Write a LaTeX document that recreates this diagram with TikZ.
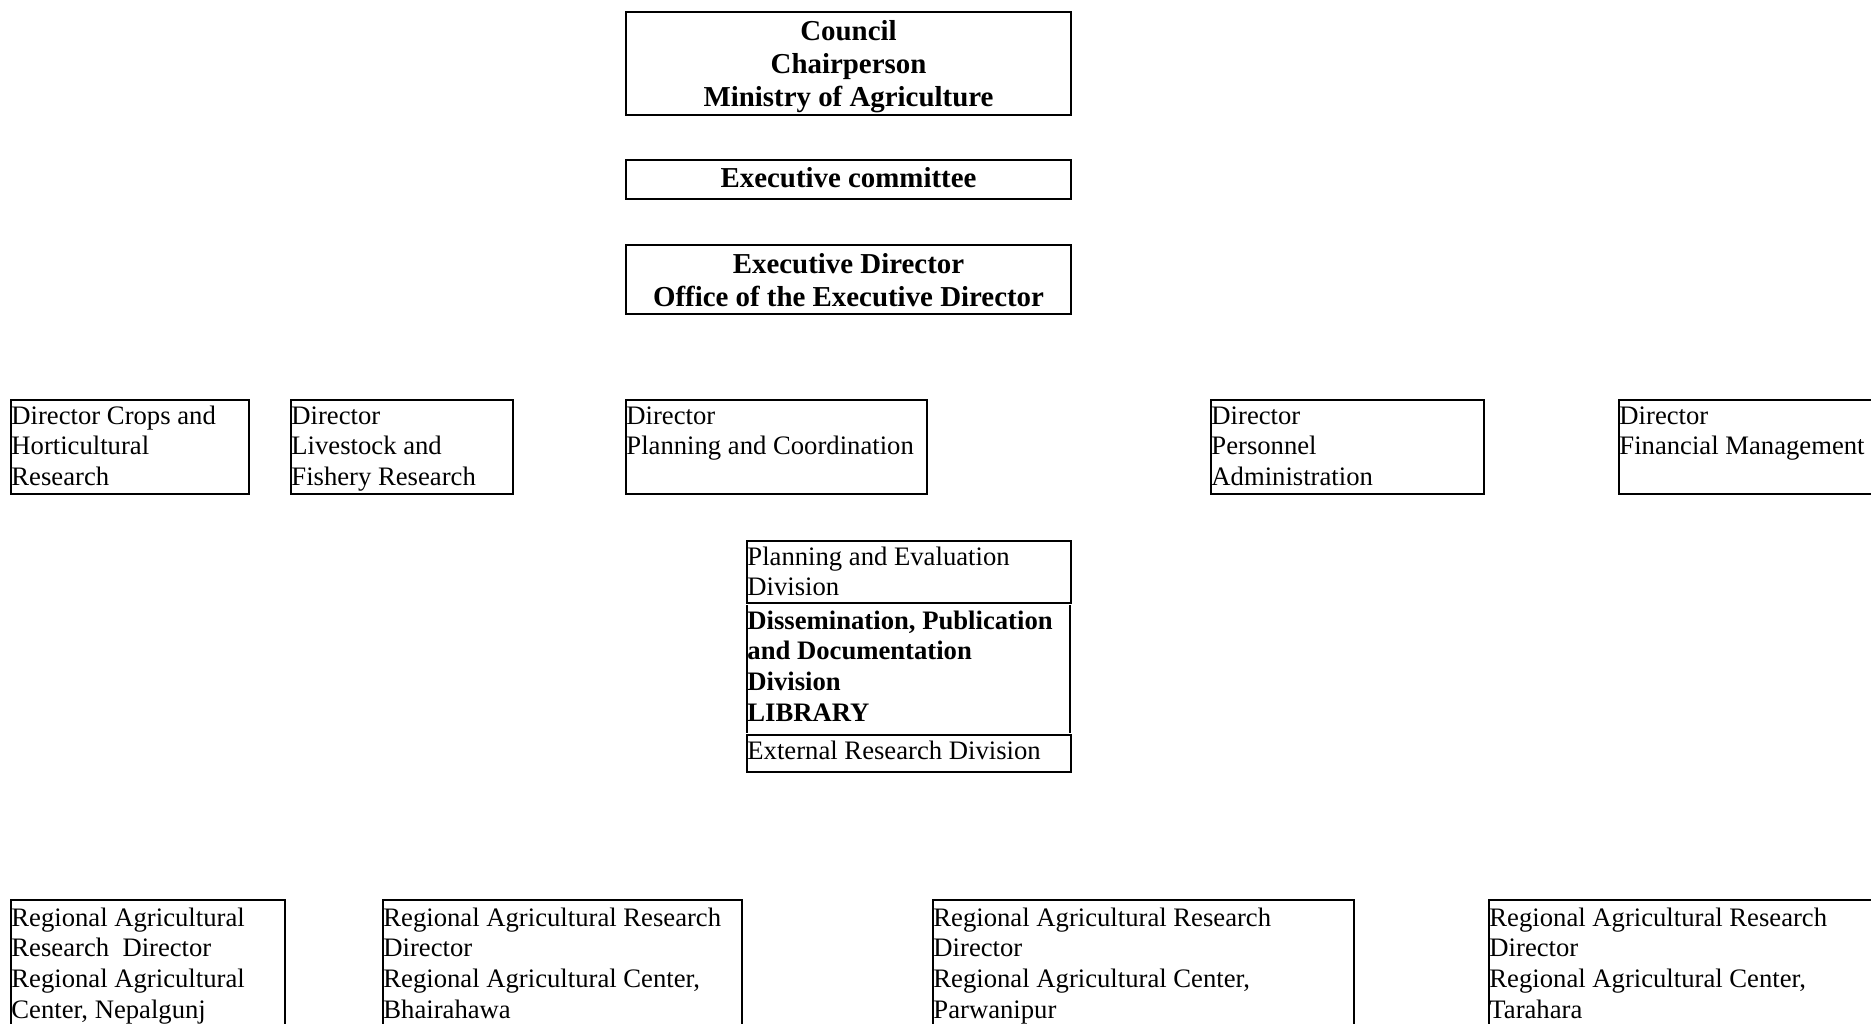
\documentclass[tikz,border=0pt]{standalone}
\usepackage{fontspec}
\setmainfont{Liberation Serif}
\usetikzlibrary{fit}
\tikzset{
  frame/.style={draw, line width=0.9pt, inner sep=0pt, outer sep=0pt},
  plain/.style={inner sep=0pt, outer sep=0pt},
  txt/.style={inner sep=0pt, anchor=base west, font=\fontsize{12}{13.8}\selectfont},
  boldtxt/.style={txt, font=\fontsize{12}{13.8}\selectfont\bfseries},
  head/.style={inner sep=0pt, anchor=base, font=\fontsize{13}{14.9}\selectfont\bfseries},
  edge/.style={line width=0.9pt},
}
\newcommand\leftlines[1]{\begin{tabular}[t]{@{}l@{}}#1\end{tabular}}
\newcommand\midlines[1]{\begin{tabular}[t]{@{}c@{}}#1\end{tabular}}
\begin{document}
\begin{tikzpicture}[x=0.45pt, y=-0.45pt]
\useasboundingbox (0,0) rectangle (1871,1023);
\clip (0,0) rectangle (1871,1023);
\fill[white] (0,0) rectangle (1871,1023);

% top chain
\node[frame, fit={(626,12) (1071,115)}] (council) {};
\node[head] (councilT) at (848.5,40) {\midlines{Council\\Chairperson\\Ministry of Agriculture}};
\node[frame, fit={(626,160) (1071,199)}] (execcom) {};
\node[head] (execcomT) at (848.5,187) {Executive committee};
\node[frame, fit={(626,245) (1071,314)}] (execdir) {};
\node[head] (execdirT) at (848.5,273) {\midlines{Executive Director\\Office of the Executive Director}};

% directors
\node[frame, fit={(11,400) (249,494)}] (crops) {};
\node[txt] (cropsT) at (11,424) {\leftlines{Director Crops and\\Horticultural\\Research}};
\node[frame, fit={(291,400) (513,494)}] (livestock) {};
\node[txt] (livestockT) at (291,424) {\leftlines{Director\\Livestock and\\Fishery Research}};
\node[frame, fit={(626,400) (927,494)}] (plancoord) {};
\node[txt] (plancoordT) at (626,424) {\leftlines{Director\\Planning and Coordination}};
\node[frame, fit={(1211,400) (1484,494)}] (personnel) {};
\node[txt] (personnelT) at (1211,424) {\leftlines{Director\\Personnel\\Administration}};
\node[frame, fit={(1619,400) (1900,494)}] (financial) {};
\node[txt] (financialT) at (1619,424) {\leftlines{Director\\Financial Management}};

% divisions
\node[frame, fit={(747,541) (1071,603)}] (planeval) {};
\node[txt] (planevalT) at (747,565) {\leftlines{Planning and Evaluation\\Division}};
\node[plain, fit={(747,605) (1070,733)}] (dissem) {};
\draw[edge] (dissem.north west) -- (dissem.south west);
\draw[edge] (dissem.north east) -- (dissem.south east);
\node[boldtxt] (dissemT) at (747,629) {\leftlines{Dissemination, Publication\\and Documentation\\Division\\LIBRARY}};
\node[frame, fit={(747,735) (1071,772)}] (external) {};
\node[txt] (externalT) at (747,759) {External Research Division};

% regional centers
\node[frame, fit={(11,900) (285,1060)}] (nepalgunj) {};
\node[txt] (nepalgunjT) at (11,926) {\leftlines{Regional Agricultural\\Research~ Director\\Regional Agricultural\\Center, Nepalgunj}};
\node[frame, fit={(383,900) (742,1060)}] (bhairahawa) {};
\node[txt] (bhairahawaT) at (383,926) {\leftlines{Regional Agricultural Research\\Director\\Regional Agricultural Center,\\Bhairahawa}};
\node[frame, fit={(933,900) (1354,1060)}] (parwanipur) {};
\node[txt] (parwanipurT) at (933,926) {\leftlines{Regional Agricultural Research\\Director\\Regional Agricultural Center,\\Parwanipur}};
\node[frame, fit={(1489,900) (1900,1060)}] (tarahara) {};
\node[txt] (taraharaT) at (1489,926) {\leftlines{Regional Agricultural Research\\Director\\Regional Agricultural Center,\\Tarahara}};
\end{tikzpicture}
\end{document}
